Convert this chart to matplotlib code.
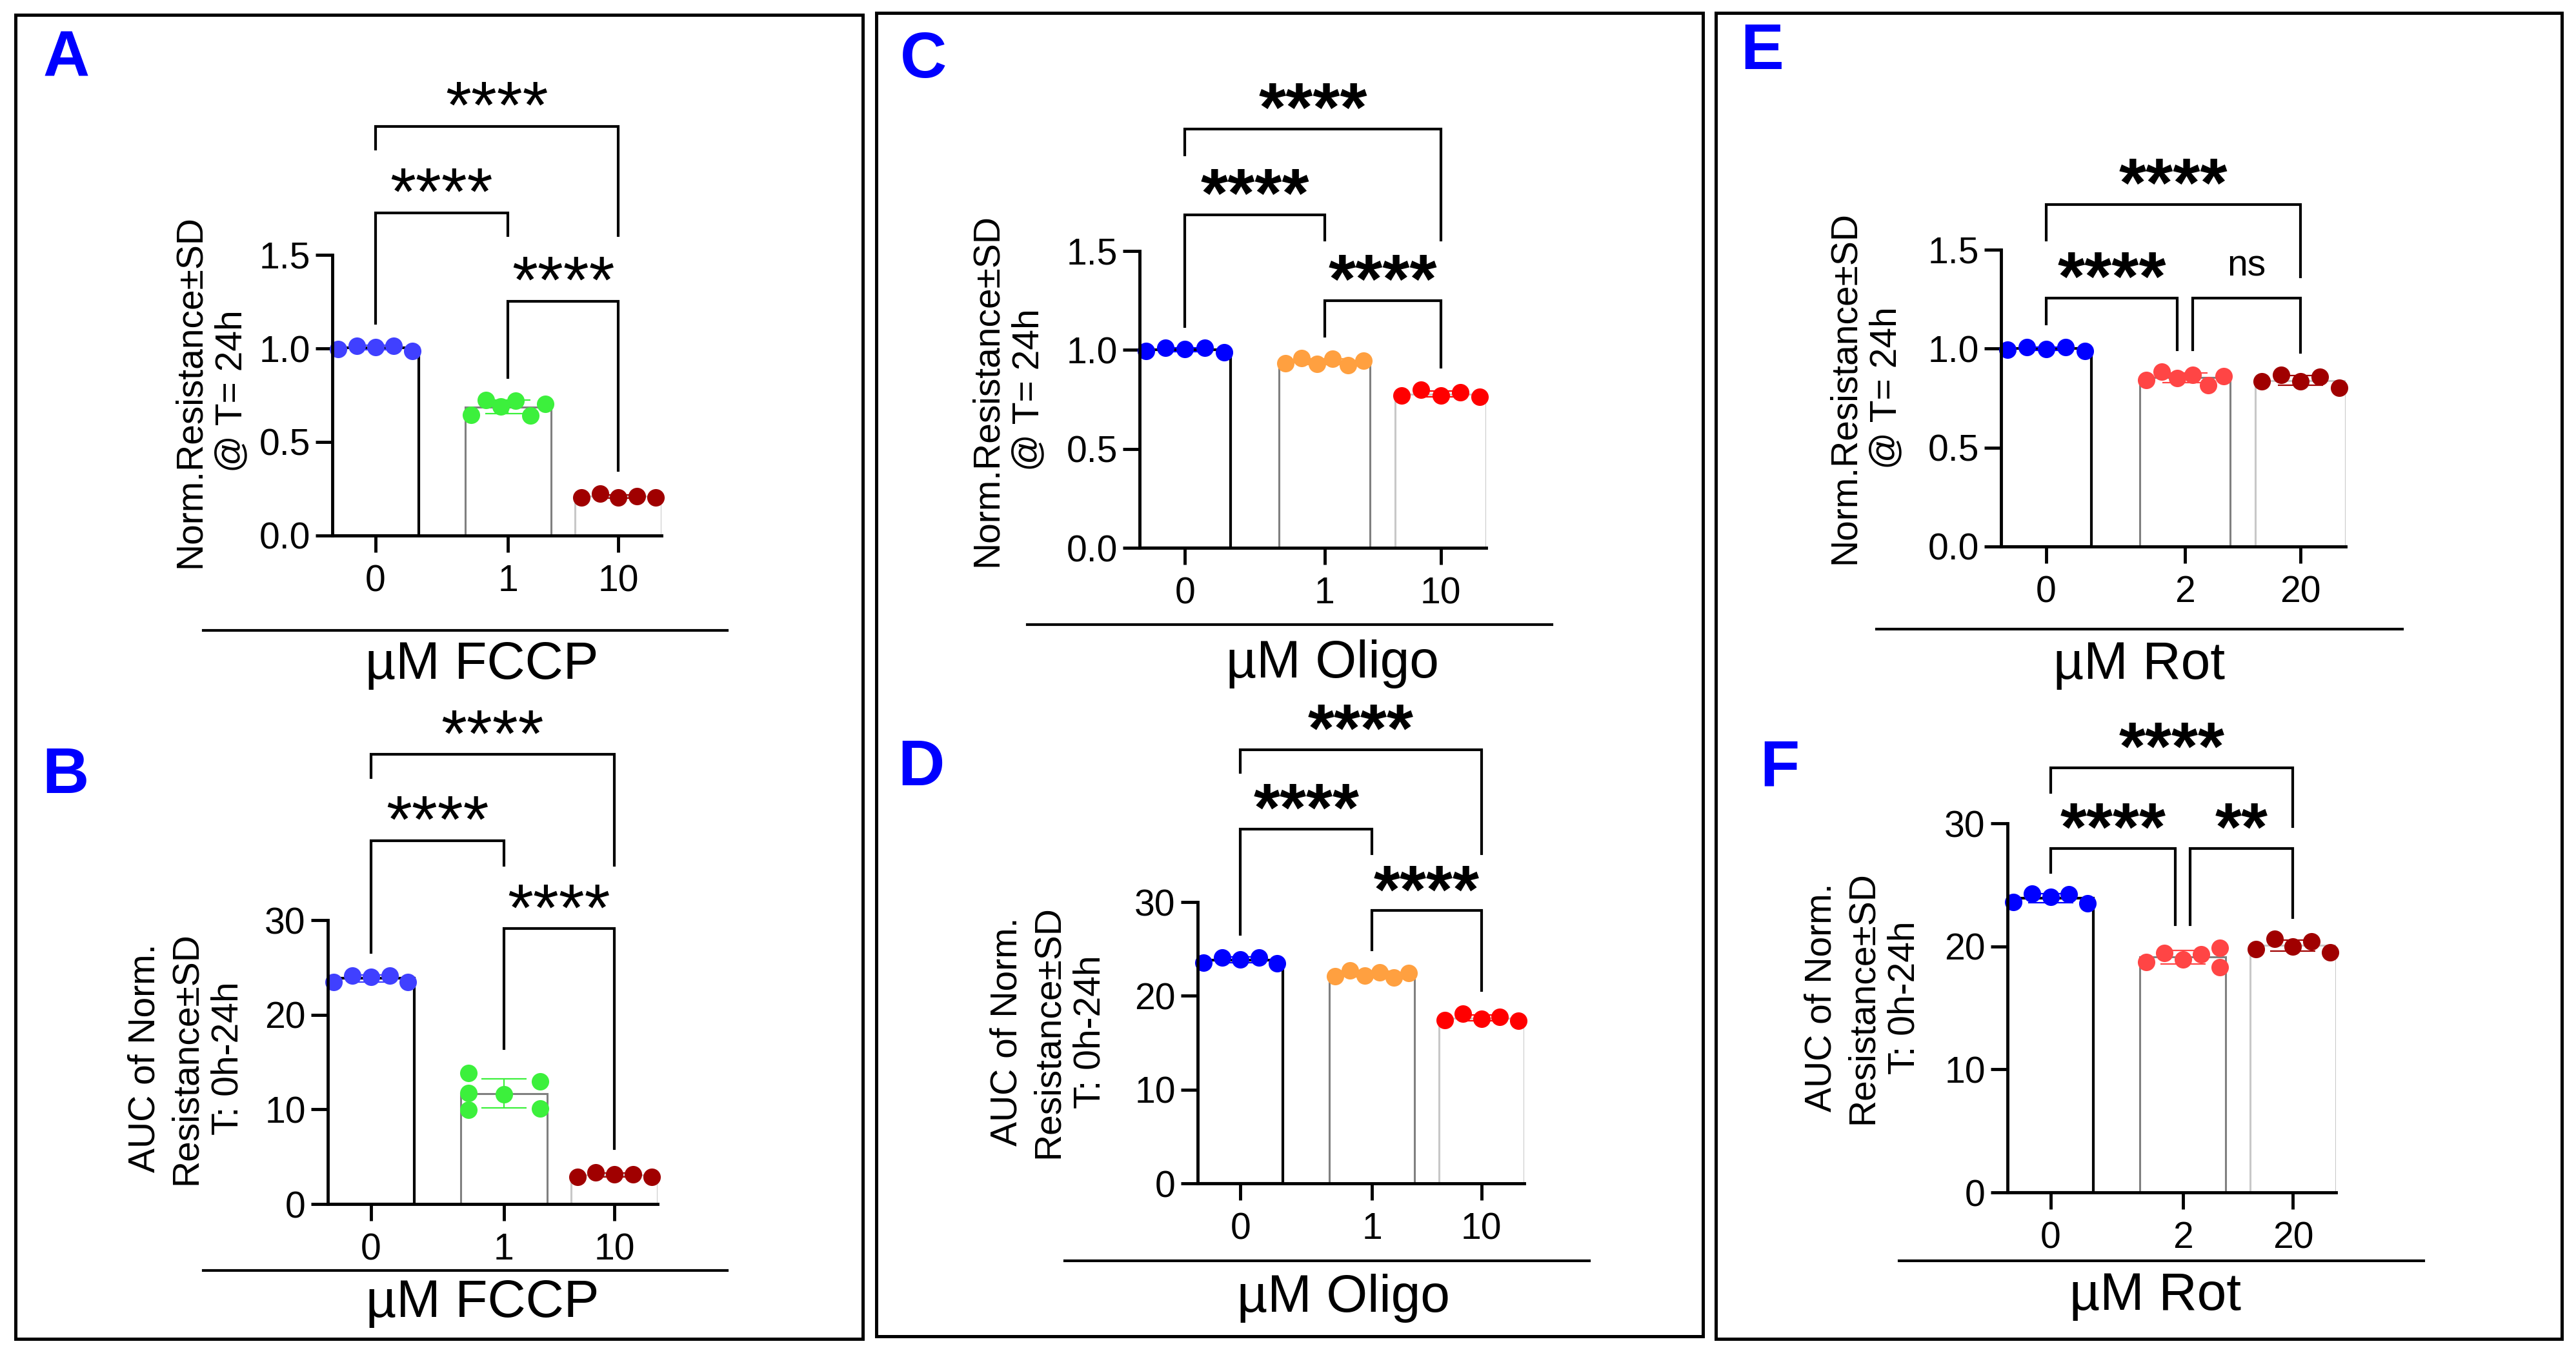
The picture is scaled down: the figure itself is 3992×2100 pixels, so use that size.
import numpy as np
import matplotlib
matplotlib.use("Agg")
import matplotlib.pyplot as plt
from matplotlib.lines import Line2D
from matplotlib.patches import Rectangle

plt.rcParams['font.family'] = ['Liberation Sans', 'DejaVu Sans']

W, H = 3992, 2100

# ---------------- data ----------------
fccp_labels = ['0', '1', '10']
oligo_labels = ['0', '1', '10']
rot_labels = ['0', '2', '20']

A_vals = [[0.997, 1.014, 1.007, 1.014, 0.986],
          [0.645, 0.725, 0.691, 0.719, 0.641, 0.703],
          [0.205, 0.225, 0.205, 0.210, 0.205]]
B_vals = [[23.45, 24.13, 24.03, 24.13, 23.45],
          [13.85, 11.71, 9.97, 11.57, 12.93, 10.10],
          [2.89, 3.33, 3.12, 3.12, 2.89]]
C_vals = [[0.995, 1.010, 1.004, 1.010, 0.988],
          [0.934, 0.960, 0.929, 0.955, 0.923, 0.945],
          [0.770, 0.798, 0.770, 0.785, 0.764]]
D_vals = [[23.55, 24.10, 23.91, 24.10, 23.45],
          [22.07, 22.72, 22.16, 22.53, 21.93, 22.44],
          [17.41, 18.10, 17.55, 17.77, 17.31]]
E_vals = [[0.993, 1.009, 0.998, 1.009, 0.989],
          [0.841, 0.884, 0.851, 0.867, 0.814, 0.862],
          [0.836, 0.867, 0.836, 0.858, 0.801]]
F_vals = [[23.58, 24.28, 24.00, 24.21, 23.51],
          [18.74, 19.44, 18.95, 19.37, 19.90, 18.31],
          [19.79, 20.60, 20.00, 20.42, 19.51]]

# significance: (group i, group j, bracket level, left leg end, right leg end, label)
A_sig = [(0, 2, 2.186, 2.066, 1.603, '****'),
         (0, 1, 1.724, 1.134, 1.603, '****'),
         (1, 2, 1.252, 0.845, 0.348, '****')]
B_sig = [(0, 2, 47.5, 45.1, 35.8, '****'),
         (0, 1, 38.4, 26.6, 35.8, '****'),
         (1, 2, 29.1, 16.4, 5.86, '****')]
C_sig = [(0, 2, 2.116, 1.985, 1.556, '****'),
         (0, 1, 1.682, 1.119, 1.556, '****'),
         (1, 2, 1.250, 1.069, 0.912, '****')]
D_sig = [(0, 2, 46.26, 43.85, 35.17, '****'),
         (0, 1, 37.76, 26.55, 35.17, '****'),
         (1, 2, 29.08, 24.93, 20.54, '****')]
E_sig = [(0, 2, 1.729, 1.550, 1.364, '****'),
         (0, 1, 1.255, 1.124, 0.993, '****'),
         (1, 2, 1.255, 0.993, 0.982, 'ns')]
F_sig = [(0, 2, 34.53, 32.52, 29.72, '****'),
         (0, 1, 27.96, 26.03, 21.76, '****'),
         (1, 2, 27.96, 21.76, 22.35, '**')]

# ---------------- styling / layout ----------------
blue_a = '#4040ff'
blue = '#0000ff'
green = '#3cf03c'
dkred = '#a00000'
orange = '#ffa040'
red = '#ff0000'
ltred = '#ff4545'

bar_edges = ['black', '#808080', '#c8c8c8']
bar_lws = [3.0, 2.2, 2.2]
positions = [0.0, 1.54, 2.82]


def spread(n):
    return list(np.linspace(-0.43, 0.43, n))


panels = [
    dict(letter='A', vals=A_vals, cats=fccp_labels, sig=A_sig,
         colors=[blue_a, green, dkred], rect=(515, 1025, 830, 395),
         ylim=1.5, yticks=[0, 0.5, 1.0, 1.5], ytl=['0.0', '0.5', '1.0', '1.5'],
         ylabel='Norm.Resistance±SD\n@ T= 24h', ylab_xy=(327, 606),
         xlabel='µM FCCP', xlab_xy=(747, 1031), line=(315, 1127, 977),
         letter_xy=(67, 119), star_w='normal', star_fs=74,
         offsets=[spread(5), spread(6), spread(5)]),
    dict(letter='B', vals=B_vals, cats=fccp_labels, sig=B_sig,
         colors=[blue_a, green, dkred], rect=(508, 1019, 1866, 1426),
         ylim=30, yticks=[0, 10, 20, 30], ytl=['0', '10', '20', '30'],
         ylabel='AUC of Norm.\nResistance±SD\nT: 0h-24h', ylab_xy=(289, 1640),
         xlabel='µM FCCP', xlab_xy=(748, 2020), line=(315, 1127, 1969),
         letter_xy=(65, 1229), star_w='normal', star_fs=74,
         offsets=[spread(5), [-0.41, -0.41, -0.41, 0.0, 0.42, 0.42], spread(5)]),
    dict(letter='C', vals=C_vals, cats=oligo_labels, sig=C_sig,
         colors=[blue, orange, red], rect=(1766, 2303, 849, 389),
         ylim=1.5, yticks=[0, 0.5, 1.0, 1.5], ytl=['0.0', '0.5', '1.0', '1.5'],
         ylabel='Norm.Resistance±SD\n@ T= 24h', ylab_xy=(1562, 604),
         xlabel='µM Oligo', xlab_xy=(2065, 1029), line=(1592, 2405, 968),
         letter_xy=(1395, 120), star_w='bold', star_fs=78,
         offsets=[spread(5), spread(6), spread(5)]),
    dict(letter='D', vals=D_vals, cats=oligo_labels, sig=D_sig,
         colors=[blue, orange, red], rect=(1856, 2362, 1834, 1398),
         ylim=30, yticks=[0, 10, 20, 30], ytl=['0', '10', '20', '30'],
         ylabel='AUC of Norm.\nResistance±SD\nT: 0h-24h', ylab_xy=(1625, 1599),
         xlabel='µM Oligo', xlab_xy=(2082, 2012), line=(1650, 2463, 1954),
         letter_xy=(1391, 1217), star_w='bold', star_fs=76,
         offsets=[spread(5), spread(6), spread(5)]),
    dict(letter='E', vals=E_vals, cats=rot_labels, sig=E_sig,
         colors=[blue, ltred, dkred], rect=(3101, 3635, 847, 387),
         ylim=1.5, yticks=[0, 0.5, 1.0, 1.5], ytl=['0.0', '0.5', '1.0', '1.5'],
         ylabel='Norm.Resistance±SD\n@ T= 24h', ylab_xy=(2891, 601),
         xlabel='µM Rot', xlab_xy=(3315, 1031), line=(2908, 3723, 975),
         letter_xy=(2697, 107), star_w='bold', star_fs=78,
         offsets=[spread(5), spread(6), spread(5)]),
    dict(letter='F', vals=F_vals, cats=rot_labels, sig=F_sig,
         colors=[blue, ltred, dkred], rect=(3111, 3620, 1848, 1276),
         ylim=30, yticks=[0, 10, 20, 30], ytl=['0', '10', '20', '30'],
         ylabel='AUC of Norm.\nResistance±SD\nT: 0h-24h', ylab_xy=(2887, 1546),
         xlabel='µM Rot', xlab_xy=(3340, 2009), line=(2943, 3756, 1954),
         letter_xy=(2727, 1217), star_w='bold', star_fs=76,
         offsets=[spread(5), [-0.43, -0.215, 0.0, 0.215, 0.43, 0.43], spread(5)]),
]

frames = [(24, 23, 1337, 2075), (1358, 20, 2639, 2071), (2659, 20, 3970, 2075)]

fig = plt.figure(figsize=(W / 100, H / 100), dpi=100)
fig.patch.set_facecolor('white')


def fx(x):
    return x / W


def fy(y):
    return 1 - y / H


for (x0, y0, x1, y1) in frames:
    fig.add_artist(Rectangle((fx(x0), fy(y1)), fx(x1) - fx(x0), fy(y0) - fy(y1),
                             transform=fig.transFigure, fill=False,
                             edgecolor='black', lw=3.6))

split = 0.085
for p in panels:
    l, r, b, t = p['rect']
    ax = fig.add_axes([fx(l), fy(b), fx(r) - fx(l), fy(t) - fy(b)])
    ax.set_xlim(-0.5, positions[-1] + 0.5)
    ax.set_ylim(0, p['ylim'])
    for s in ['top', 'right']:
        ax.spines[s].set_visible(False)
    for s in ['left', 'bottom']:
        ax.spines[s].set_linewidth(3.5)
        ax.spines[s].set_zorder(5)
    ax.set_yticks(p['yticks'])
    ax.set_yticklabels(p['ytl'])
    ax.set_xticks(positions)
    ax.set_xticklabels(p['cats'])
    ax.tick_params(axis='both', length=18.7, width=3.5, labelsize=41, direction='out')
    ax.tick_params(axis='y', pad=6)
    ax.tick_params(axis='x', pad=13)
    ax.patch.set_alpha(0)

    means = [np.mean(v) for v in p['vals']]
    sds = [np.std(v, ddof=1) for v in p['vals']]
    for k in range(3):
        ax.bar(positions[k], means[k], width=1.0, color='white',
               edgecolor=bar_edges[k], linewidth=bar_lws[k], zorder=2)
        ax.errorbar(positions[k], means[k], yerr=sds[k], color=p['colors'][k],
                    capsize=25, elinewidth=1.6, capthick=1.6, zorder=3)
        xs = [positions[k] + o for o in p['offsets'][k]]
        ax.scatter(xs, p['vals'][k], s=380, color=p['colors'][k], zorder=4,
                   linewidths=0, clip_on=False)

    # brackets
    for (i, j, yb, yl, yr, txt) in p['sig']:
        xi = positions[i]
        xj = positions[j]
        # split legs when a neighbouring bracket shares the group
        for (i2, j2, yb2, _, _, _) in p['sig']:
            if yb2 == yb and (i2, j2) != (i, j):
                if i2 == j:
                    xj -= split
                if j2 == i:
                    xi += split
        ax.plot([xi, xi, xj, xj], [yl, yb, yb, yr], color='black', lw=3.0,
                clip_on=False, solid_joinstyle='miter', zorder=6)
        xm = (xi + xj) / 2
        if txt == 'ns':
            ax.annotate(txt, xy=(xm, yb), xytext=(0, 25), textcoords='offset points',
                        ha='center', va='baseline', fontsize=41, annotation_clip=False)
        else:
            ax.annotate(txt, xy=(xm, yb), xytext=(0, -2), textcoords='offset points',
                        ha='center', va='baseline', fontsize=p['star_fs'],
                        fontweight=p['star_w'], annotation_clip=False)

    fig.text(fx(p['ylab_xy'][0]), fy(p['ylab_xy'][1]), p['ylabel'], rotation=90,
             ha='center', va='center', multialignment='center', fontsize=41,
             linespacing=1.25)
    fig.text(fx(p['xlab_xy'][0]), fy(p['xlab_xy'][1]), p['xlabel'],
             ha='center', va='center', fontsize=59)
    x1, x2, yl_ = p['line']
    fig.add_artist(Line2D([fx(x1), fx(x2)], [fy(yl_), fy(yl_)], color='black',
                          lw=3.0, transform=fig.transFigure))
    fig.text(fx(p['letter_xy'][0]), fy(p['letter_xy'][1]), p['letter'],
             ha='left', va='baseline', fontsize=72, fontweight='bold', color='#0000ff')

fig.savefig('out.png', dpi=100, facecolor='white')
